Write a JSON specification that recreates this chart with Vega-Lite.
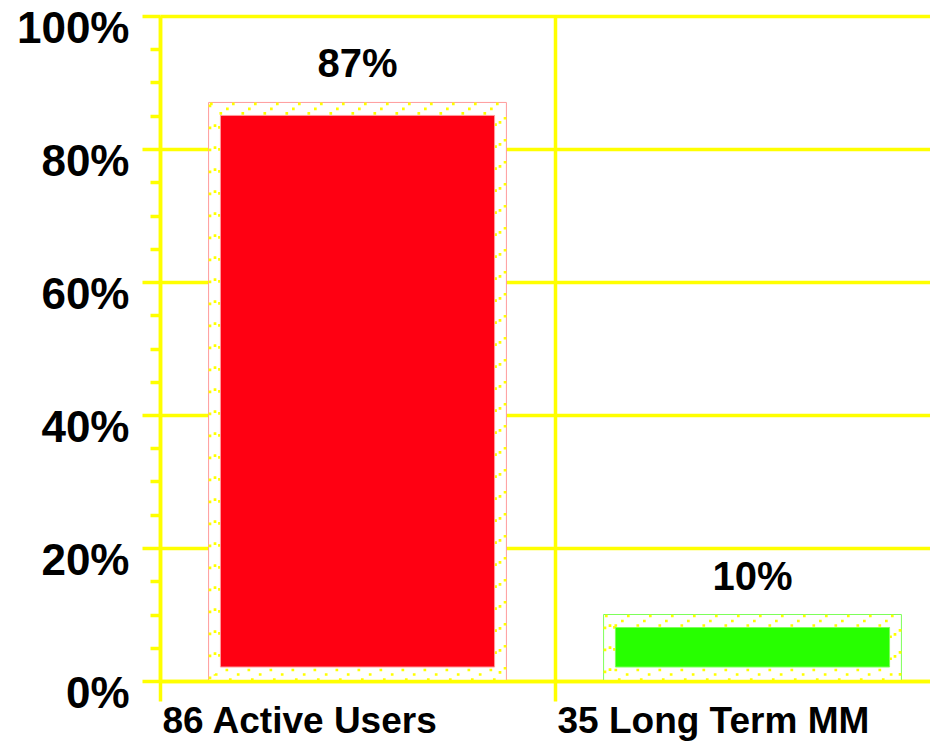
{
  "$schema": "https://vega.github.io/schema/vega-lite/v6.json",
  "autosize": {"type": "none"},
  "padding": {"left": 160, "top": 16, "right": 0, "bottom": 63},
  "width": 770,
  "height": 665,
  "background": "white",
  "config": {
    "view": {"stroke": null},
    "font": "Liberation Sans"
  },
  "data": {
    "values": [
      {"label": "86 Active Users", "value": 0.87},
      {"label": "35 Long Term MM", "value": 0.10}
    ]
  },
  "encoding": {
    "x": {
      "field": "label",
      "type": "nominal",
      "sort": null,
      "scale": {"type": "band", "range": [0, 790], "paddingInner": 0, "paddingOuter": 0},
      "axis": {
        "title": null,
        "orient": "bottom",
        "zindex": 1,
        "bandPosition": 0,
        "domainColor": "#ffff00",
        "domainWidth": 3.5,
        "ticks": true,
        "tickColor": "#ffff00",
        "tickWidth": 3.5,
        "tickSize": 20,
        "grid": true,
        "gridColor": "#ffff00",
        "gridWidth": 3.5,
        "labelAlign": "left",
        "labelBaseline": "top",
        "labelPadding": 2,
        "labelOffset": -195,
        "labelFont": "Liberation Sans",
        "labelFontSize": 37,
        "labelFontWeight": "bold",
        "labelColor": "black",
        "labelLimit": 0,
        "labelOverlap": false,
        "labelFlush": false,
        "labelAngle": 0
      }
    },
    "y": {
      "field": "value",
      "type": "quantitative",
      "scale": {"domain": [0, 1], "nice": false, "zero": true},
      "axis": {
        "title": null,
        "zindex": 0,
        "values": [0, 0.05, 0.1, 0.15, 0.2, 0.25, 0.3, 0.35, 0.4, 0.45, 0.5, 0.55, 0.6, 0.65, 0.7, 0.75, 0.8, 0.85, 0.9, 0.95, 1],
        "format": ".0%",
        "labelExpr": "round(datum.value*100) % 20 === 0 ? datum.label : ''",
        "domainColor": "#ffff00",
        "domainWidth": 3.5,
        "tickColor": "#ffff00",
        "tickWidth": 3.5,
        "tickSize": {"condition": {"test": "round(datum.value*100) % 20 === 0", "value": 18}, "value": 10},
        "grid": true,
        "gridColor": "#ffff00",
        "gridWidth": 3.5,
        "gridOpacity": {"condition": {"test": "round(datum.value*100) % 20 === 0", "value": 1}, "value": 0},
        "labelFont": "Liberation Sans",
        "labelFontSize": 44,
        "labelFontWeight": "bold",
        "labelColor": "black",
        "labelPadding": 13,
        "labelBaseline": "middle",
        "labelOffset": 13,
        "labelOverlap": false,
        "labelFlush": false
      }
    },
    "y2": {"datum": 0}
  },
  "layer": [
    {
      "mark": {"type": "bar", "width": {"band": 0.754}, "fill": "white", "strokeWidth": 1},
      "encoding": {
        "stroke": {"field": "label", "type": "nominal", "sort": null, "scale": {"range": ["#ff9c9c", "#7dff5a"]}, "legend": null}
      }
    },
    {
      "mark": {"type": "bar", "width": {"band": 0.747}, "fillOpacity": 0, "stroke": "#ffff00", "strokeWidth": 2.7, "strokeDash": [2.7, 19.3], "yOffset": 1.5, "y2Offset": -1.5}
    },
    {
      "mark": {"type": "bar", "width": {"band": 0.7215}, "fillOpacity": 0, "stroke": "#ffff00", "strokeWidth": 2.7, "strokeDash": [2.7, 19.3], "strokeDashOffset": 11, "yOffset": 6.5, "y2Offset": -6.5}
    },
    {
      "mark": {"type": "bar", "width": {"band": 0.699}, "fillOpacity": 0, "stroke": "#ffff00", "strokeWidth": 2.7, "strokeDash": [2.7, 19.3], "yOffset": 11, "y2Offset": -11}
    },
    {
      "mark": {"type": "bar", "width": {"band": 0.694}, "strokeWidth": 1, "yOffset": 13, "y2Offset": -14},
      "encoding": {
        "fill": {"field": "label", "type": "nominal", "sort": null, "scale": {"range": ["#ff0012", "#27ff00"]}, "legend": null},
        "stroke": {"field": "label", "type": "nominal", "sort": null, "scale": {"range": ["#ff9c9c", "#7dff5a"]}, "legend": null}
      }
    },
    {
      "mark": {"type": "text", "dy": -25, "baseline": "alphabetic", "align": "center", "fontSize": 40, "fontWeight": "bold", "font": "Liberation Sans", "color": "black"},
      "encoding": {
        "y2": null,
        "text": {"field": "value", "type": "quantitative", "format": ".0%"}
      }
    }
  ]
}
